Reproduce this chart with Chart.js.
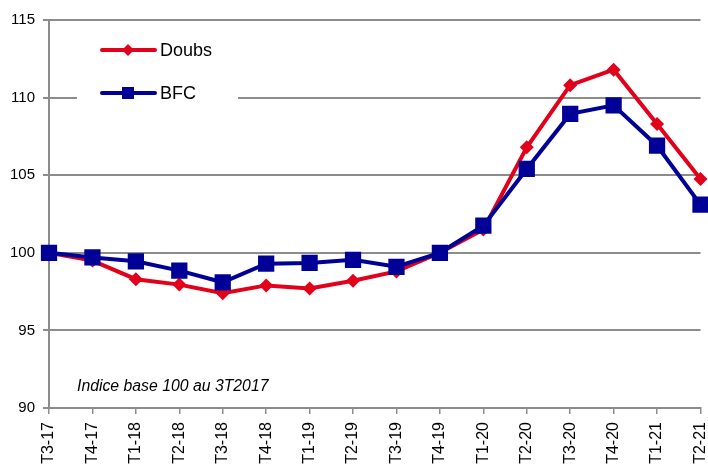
<!DOCTYPE html>
<html>
<head>
<meta charset="utf-8">
<script src="https://cdn.jsdelivr.net/npm/chart.js@4/dist/chart.umd.min.js"></script>
<style>
  html, body { margin: 0; padding: 0; background: #fff; overflow: hidden; }
  #wrap { width: 712px; height: 469px; position: relative; }
</style>
</head>
<body>
<div id="wrap"><canvas id="cv"></canvas></div>
<script>
// trimestres
const labels = ['T3-17','T4-17','T1-18','T2-18','T3-18','T4-18','T1-19','T2-19','T3-19','T4-19','T1-20','T2-20','T3-20','T4-20','T1-21','T2-21'];

// indice base 100 au 3T2017
const doubs = [100, 99.5, 98.3, 97.95, 97.4, 97.9, 97.7, 98.2, 98.8, 100, 101.5, 106.8, 110.8, 111.8, 108.3, 104.75];
const bfc   = [100, 99.7, 99.45, 98.85, 98.1, 99.3, 99.35, 99.55, 99.1, 100, 101.75, 105.4, 108.95, 109.5, 106.9, 103.1];

const yTicks = [90, 95, 100, 105, 110, 115];

const RED = '#e2001a', BLUE = '#000096', AXIS = '#8c8c8c';
const FONT = 'Liberation Sans, Arial, sans-serif';

// légende dans la zone de tracé + note
const overlay = {
  id: 'overlay',
  beforeDatasetsDraw(chart) {
    const { ctx, chartArea: a } = chart;
    ctx.save();
    ctx.fillStyle = '#fff';
    ctx.fillRect(a.left + 28, a.top + 12, 161, 95);

    const items = [
      { t: 'Doubs', c: RED, y: 50, style: 'rectRot', r: 6 },
      { t: 'BFC', c: BLUE, y: 93, style: 'rect', r: 8.5 },
    ];
    items.forEach(it => {
      ctx.strokeStyle = it.c; ctx.lineWidth = 4; ctx.lineCap = 'round';
      ctx.beginPath(); ctx.moveTo(102, it.y); ctx.lineTo(155, it.y); ctx.stroke();
      ctx.fillStyle = it.c;
      Chart.helpers.drawPoint(ctx, { pointStyle: it.style, radius: it.r, borderWidth: 0 }, 128, it.y);
      ctx.fillStyle = '#000';
      ctx.font = '18px ' + FONT;
      ctx.textBaseline = 'middle';
      ctx.fillText(it.t, 160, it.y + 1);
    });

    ctx.font = 'italic 15.8px ' + FONT;
    ctx.fillStyle = '#000';
    ctx.textBaseline = 'alphabetic';
    ctx.fillText('Indice base 100 au 3T2017', 77, 391);
    ctx.restore();
  }
};

new Chart(document.getElementById('cv'), {
  type: 'line',
  data: {
    labels,
    datasets: [
      { label: 'BFC', data: bfc, borderColor: BLUE, backgroundColor: BLUE, borderWidth: 4,
        pointStyle: 'rect', pointRadius: 11.5, pointBorderWidth: 0, tension: 0 },
      { label: 'Doubs', data: doubs, borderColor: RED, backgroundColor: RED, borderWidth: 4,
        pointStyle: 'rectRot', pointRadius: 7, pointBorderWidth: 0, tension: 0 },
    ],
  },
  options: {
    responsive: true, maintainAspectRatio: false, animation: false,
    layout: { padding: { top: 20, right: 4, left: 0, bottom: 0 } },
    plugins: { legend: { display: false }, tooltip: { enabled: false } },
    scales: {
      x: {
        offset: false,
        grid: { drawOnChartArea: false, drawTicks: true, tickLength: 6, color: AXIS, lineWidth: 1.5 },
        border: { color: AXIS, width: 2 },
        ticks: { color: '#000', font: { family: FONT, size: 16 }, minRotation: 90, maxRotation: 90, padding: 8, autoSkip: false },
        afterFit: s => { s.height = 61; s.paddingRight = 0; s.paddingLeft = 0; },
      },
      y: {
        min: 90, max: 115,
        afterBuildTicks: s => { s.ticks = yTicks.map(v => ({ value: v })); },
        grid: { color: AXIS, lineWidth: 2, tickLength: 6 },
        border: { color: AXIS, width: 2 },
        ticks: { color: '#000', font: { family: FONT, size: 15 }, padding: 8 },
        afterFit: s => { s.width = 49; s.paddingTop = 0; s.paddingBottom = 0; },
      },
    },
  },
  plugins: [overlay],
});
</script>
</body>
</html>
